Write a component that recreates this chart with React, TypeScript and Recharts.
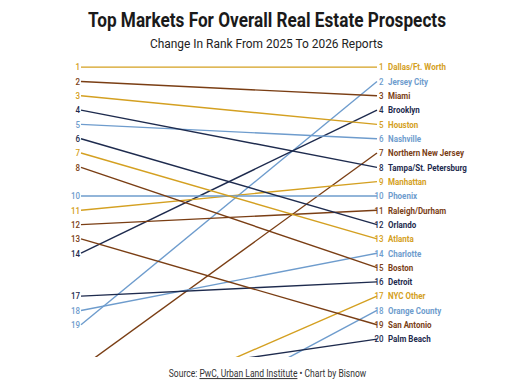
import { LineChart, Line, XAxis, YAxis, LabelList } from "recharts";

// 2026 order (right side)
const markets = [
  "Dallas/Ft. Worth",
  "Jersey City",
  "Miami",
  "Brooklyn",
  "Houston",
  "Nashville",
  "Northern New Jersey",
  "Tampa/St. Petersburg",
  "Manhattan",
  "Phoenix",
  "Raleigh/Durham",
  "Orlando",
  "Atlanta",
  "Charlotte",
  "Boston",
  "Detroit",
  "NYC Other",
  "Orange County",
  "San Antonio",
  "Palm Beach",
];
const rank2025 = [1, 19, 2, 14, 3, 5, 22, 4, 11, 10, 12, 6, 7, 18, 8, 17, 26, 29, 13, 23];
const rank2026 = [1, 2, 3, 4, 5, 6, 7, 8, 9, 10, 11, 12, 13, 14, 15, 16, 17, 18, 19, 20];
const palette = ["#d4a021", "#6e9ccd", "#7a3e14", "#1e2b4e"];

const data = [
  { year: 0, ...Object.fromEntries(markets.map((_, i) => [`m${i}`, rank2025[i]])) },
  { year: 1, ...Object.fromEntries(markets.map((_, i) => [`m${i}`, rank2026[i]])) },
];

const FONT = "Roboto, 'Noto Sans', sans-serif";
const SQUEEZE = 0.84;

const makeLabel = (name: string, color: string) => (p: any) => {
  const x = Number(p.x);
  const y = Number(p.y);
  if (p.index === 0) {
    // markets ranked outside the top 20 in 2025 get no left label
    if (p.value > 20) return null;
    return (
      <text
        transform={`translate(${x - 1},${y + 3.3}) scale(${SQUEEZE},1)`}
        textAnchor="end"
        fill={color}
        fontSize={9.5}
        fontWeight={500}
        fontFamily={FONT}
      >
        {p.value}
      </text>
    );
  }
  return (
    <g>
      <text
        transform={`translate(${x + 6.5},${y + 3.3}) scale(${SQUEEZE},1)`}
        textAnchor="end"
        fill={color}
        fontSize={9.5}
        fontWeight={500}
        fontFamily={FONT}
      >
        {p.value}
      </text>
      <text
        transform={`translate(${x + 11},${y + 3.3}) scale(${SQUEEZE},1)`}
        fill={color}
        fontSize={9.5}
        fontWeight={700}
        fontFamily={FONT}
      >
        {name}
      </text>
    </g>
  );
};

export default function App() {
  return (
    <div style={{ position: "absolute", left: 0, top: 0, width: 512, height: 391, background: "#fff" }}>
      <svg width={512} height={391} style={{ position: "absolute", left: 0, top: 0 }}>
        <text
          x={267}
          y={26.5}
          textAnchor="middle"
          fontFamily={FONT}
          fontWeight={700}
          fontSize={20}
          fill="#1a1a1a"
          textLength={358}
          lengthAdjust="spacingAndGlyphs"
        >
          Top Markets For Overall Real Estate Prospects
        </text>
        <text
          x={266.5}
          y={48}
          textAnchor="middle"
          fontFamily={FONT}
          fontSize={12.5}
          fill="#222"
          textLength={233}
          lengthAdjust="spacingAndGlyphs"
        >
          Change In Rank From 2025 To 2026 Reports
        </text>
        <text
          transform="translate(267.5,377) scale(0.855,1)"
          textAnchor="middle"
          fontFamily={FONT}
          fontSize={10}
          fill="#333"
        >
          Source: <tspan style={{ textDecoration: "underline" }}>PwC, Urban Land Institute</tspan> • Chart by Bisnow
        </text>
      </svg>
      <div style={{ position: "absolute", left: 0, top: 0 }}>
        <LineChart
          width={512}
          height={391}
          data={data}
          margin={{ top: 60, right: 135, bottom: 34, left: 81 }}
        >
          <XAxis dataKey="year" type="number" domain={[0, 1]} hide />
          <YAxis type="number" domain={[0.5, 21.25]} reversed allowDataOverflow hide />
          {markets.map((name, i) => (
            <Line
              key={name}
              dataKey={`m${i}`}
              stroke={palette[i % 4]}
              strokeWidth={1.4}
              dot={false}
              activeDot={false}
              isAnimationActive={false}
            >
              <LabelList dataKey={`m${i}`} content={makeLabel(name, palette[i % 4])} />
            </Line>
          ))}
        </LineChart>
      </div>
    </div>
  );
}
